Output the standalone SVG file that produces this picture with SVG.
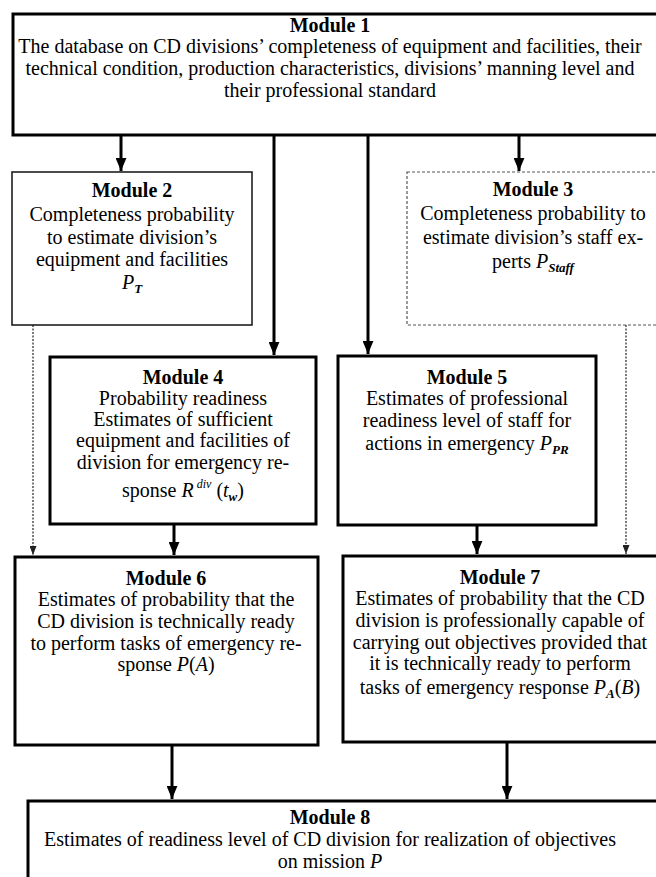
<svg xmlns="http://www.w3.org/2000/svg" width="656" height="877" viewBox="0 0 656 877">
<style>
text{font-family:"Liberation Serif","Times New Roman",serif;font-size:20px;fill:#000;text-anchor:middle}
.t{font-weight:bold}
.i{font-style:italic}
.sub{font-style:italic;font-size:13px;font-weight:bold}
.box{fill:#fff;stroke:#000;stroke-width:3}
.thin{fill:#fff;stroke:#111;stroke-width:1.5}
.dash{fill:#fff;stroke:#555;stroke-width:1.2;stroke-dasharray:3 2}
.a{fill:none;stroke:#000;stroke-width:3;marker-end:url(#ah)}
.d{fill:none;stroke:#333;stroke-width:1.3;stroke-dasharray:2 1.5;marker-end:url(#ahs)}
</style>
<defs>
<marker id="ah" viewBox="0 0 12 10" refX="12" refY="5" markerWidth="13" markerHeight="11" markerUnits="userSpaceOnUse" orient="auto"><path d="M0,0 L12,5 L0,10 z" fill="#000"/></marker>
<marker id="ahs" viewBox="0 0 9 7" refX="9" refY="3.5" markerWidth="9" markerHeight="7" markerUnits="userSpaceOnUse" orient="auto"><path d="M0,0 L9,3.5 L0,7 z" fill="#222"/></marker>
</defs>
<rect width="656" height="877" fill="#fff"/>
<g id="connectors">
<line class="a" x1="121" y1="135" x2="121" y2="171"/>
<line class="a" x1="274" y1="135" x2="274" y2="355"/>
<line class="a" x1="368" y1="135" x2="368" y2="354"/>
<line class="a" x1="519" y1="135" x2="519" y2="171"/>
<line class="d" x1="33" y1="325" x2="33" y2="555"/>
<line class="a" x1="174" y1="524" x2="174" y2="555"/>
<line class="a" x1="477" y1="525" x2="477" y2="554"/>
<line class="d" x1="626" y1="325" x2="626" y2="554"/>
<line class="a" x1="172" y1="745" x2="172" y2="799"/>
<line class="a" x1="507" y1="742" x2="507" y2="799"/>
</g>
<g id="module1">
<rect class="box" x="13" y="14" width="650" height="121"/>
<text x="330" y="32" class="t">Module 1</text>
<text x="330" y="53">The database on CD divisions’ completeness of equipment and facilities, their</text>
<text x="330" y="75">technical condition, production characteristics, divisions’ manning level and</text>
<text x="330" y="97">their professional standard</text>
</g>
<g id="module2">
<rect class="thin" x="12" y="172" width="240" height="153"/>
<text x="132" y="197" class="t">Module 2</text>
<text x="132" y="221">Completeness probability</text>
<text x="132" y="244">to estimate division’s</text>
<text x="132" y="266">equipment and facilities</text>
<text x="132" y="289"><tspan class="i">P</tspan><tspan class="sub" dy="4">T</tspan></text>
</g>
<g id="module3">
<rect class="dash" x="407" y="172" width="253" height="153"/>
<text x="533" y="196" class="t">Module 3</text>
<text x="533" y="220">Completeness probability to</text>
<text x="533" y="244">estimate division’s staff ex-</text>
<text x="533" y="268">perts <tspan class="i">P</tspan><tspan class="sub" dy="4">Staff</tspan></text>
</g>
<g id="module4">
<rect class="box" x="50" y="357" width="266" height="167"/>
<text x="183" y="384" class="t">Module 4</text>
<text x="183" y="405">Probability readiness</text>
<text x="183" y="426">Estimates of sufficient</text>
<text x="183" y="447">equipment and facilities of</text>
<text x="183" y="469">division for emergency re-</text>
<text x="183" y="497">sponse <tspan class="i">R</tspan><tspan class="i" font-size="12" dy="-9"> div</tspan><tspan dy="9"> (</tspan><tspan class="i">t</tspan><tspan class="sub" dy="4">w</tspan><tspan dy="-4">)</tspan></text>
</g>
<g id="module5">
<rect class="box" x="338" y="356" width="258" height="169"/>
<text x="467" y="384" class="t">Module 5</text>
<text x="467" y="405">Estimates of professional</text>
<text x="467" y="427">readiness level of staff for</text>
<text x="467" y="450">actions in emergency <tspan class="i">P</tspan><tspan class="sub" dy="4">PR</tspan></text>
</g>
<g id="module6">
<rect class="box" x="15" y="557" width="303" height="188"/>
<text x="166" y="585" class="t">Module 6</text>
<text x="166" y="606">Estimates of probability that the</text>
<text x="166" y="628">CD division is technically ready</text>
<text x="166" y="650">to perform tasks of emergency re-</text>
<text x="166" y="671">sponse <tspan class="i">P</tspan>(<tspan class="i">A</tspan>)</text>
</g>
<g id="module7">
<rect class="box" x="343" y="556" width="317" height="186"/>
<text x="500" y="584" class="t">Module 7</text>
<text x="500" y="605">Estimates of probability that the CD</text>
<text x="500" y="627">division is professionally capable of</text>
<text x="500" y="649">carrying out objectives provided that</text>
<text x="500" y="670">it is technically ready to perform</text>
<text x="500" y="694">tasks of emergency response <tspan class="i">P</tspan><tspan class="sub" dy="4">A</tspan><tspan dy="-4">(</tspan><tspan class="i">B</tspan>)</text>
</g>
<g id="module8">
<rect class="box" x="28" y="801" width="640" height="90"/>
<text x="330" y="824" class="t">Module 8</text>
<text x="330" y="846">Estimates of readiness level of CD division for realization of objectives</text>
<text x="330" y="868">on mission <tspan class="i">P</tspan></text>
</g>
</svg>
